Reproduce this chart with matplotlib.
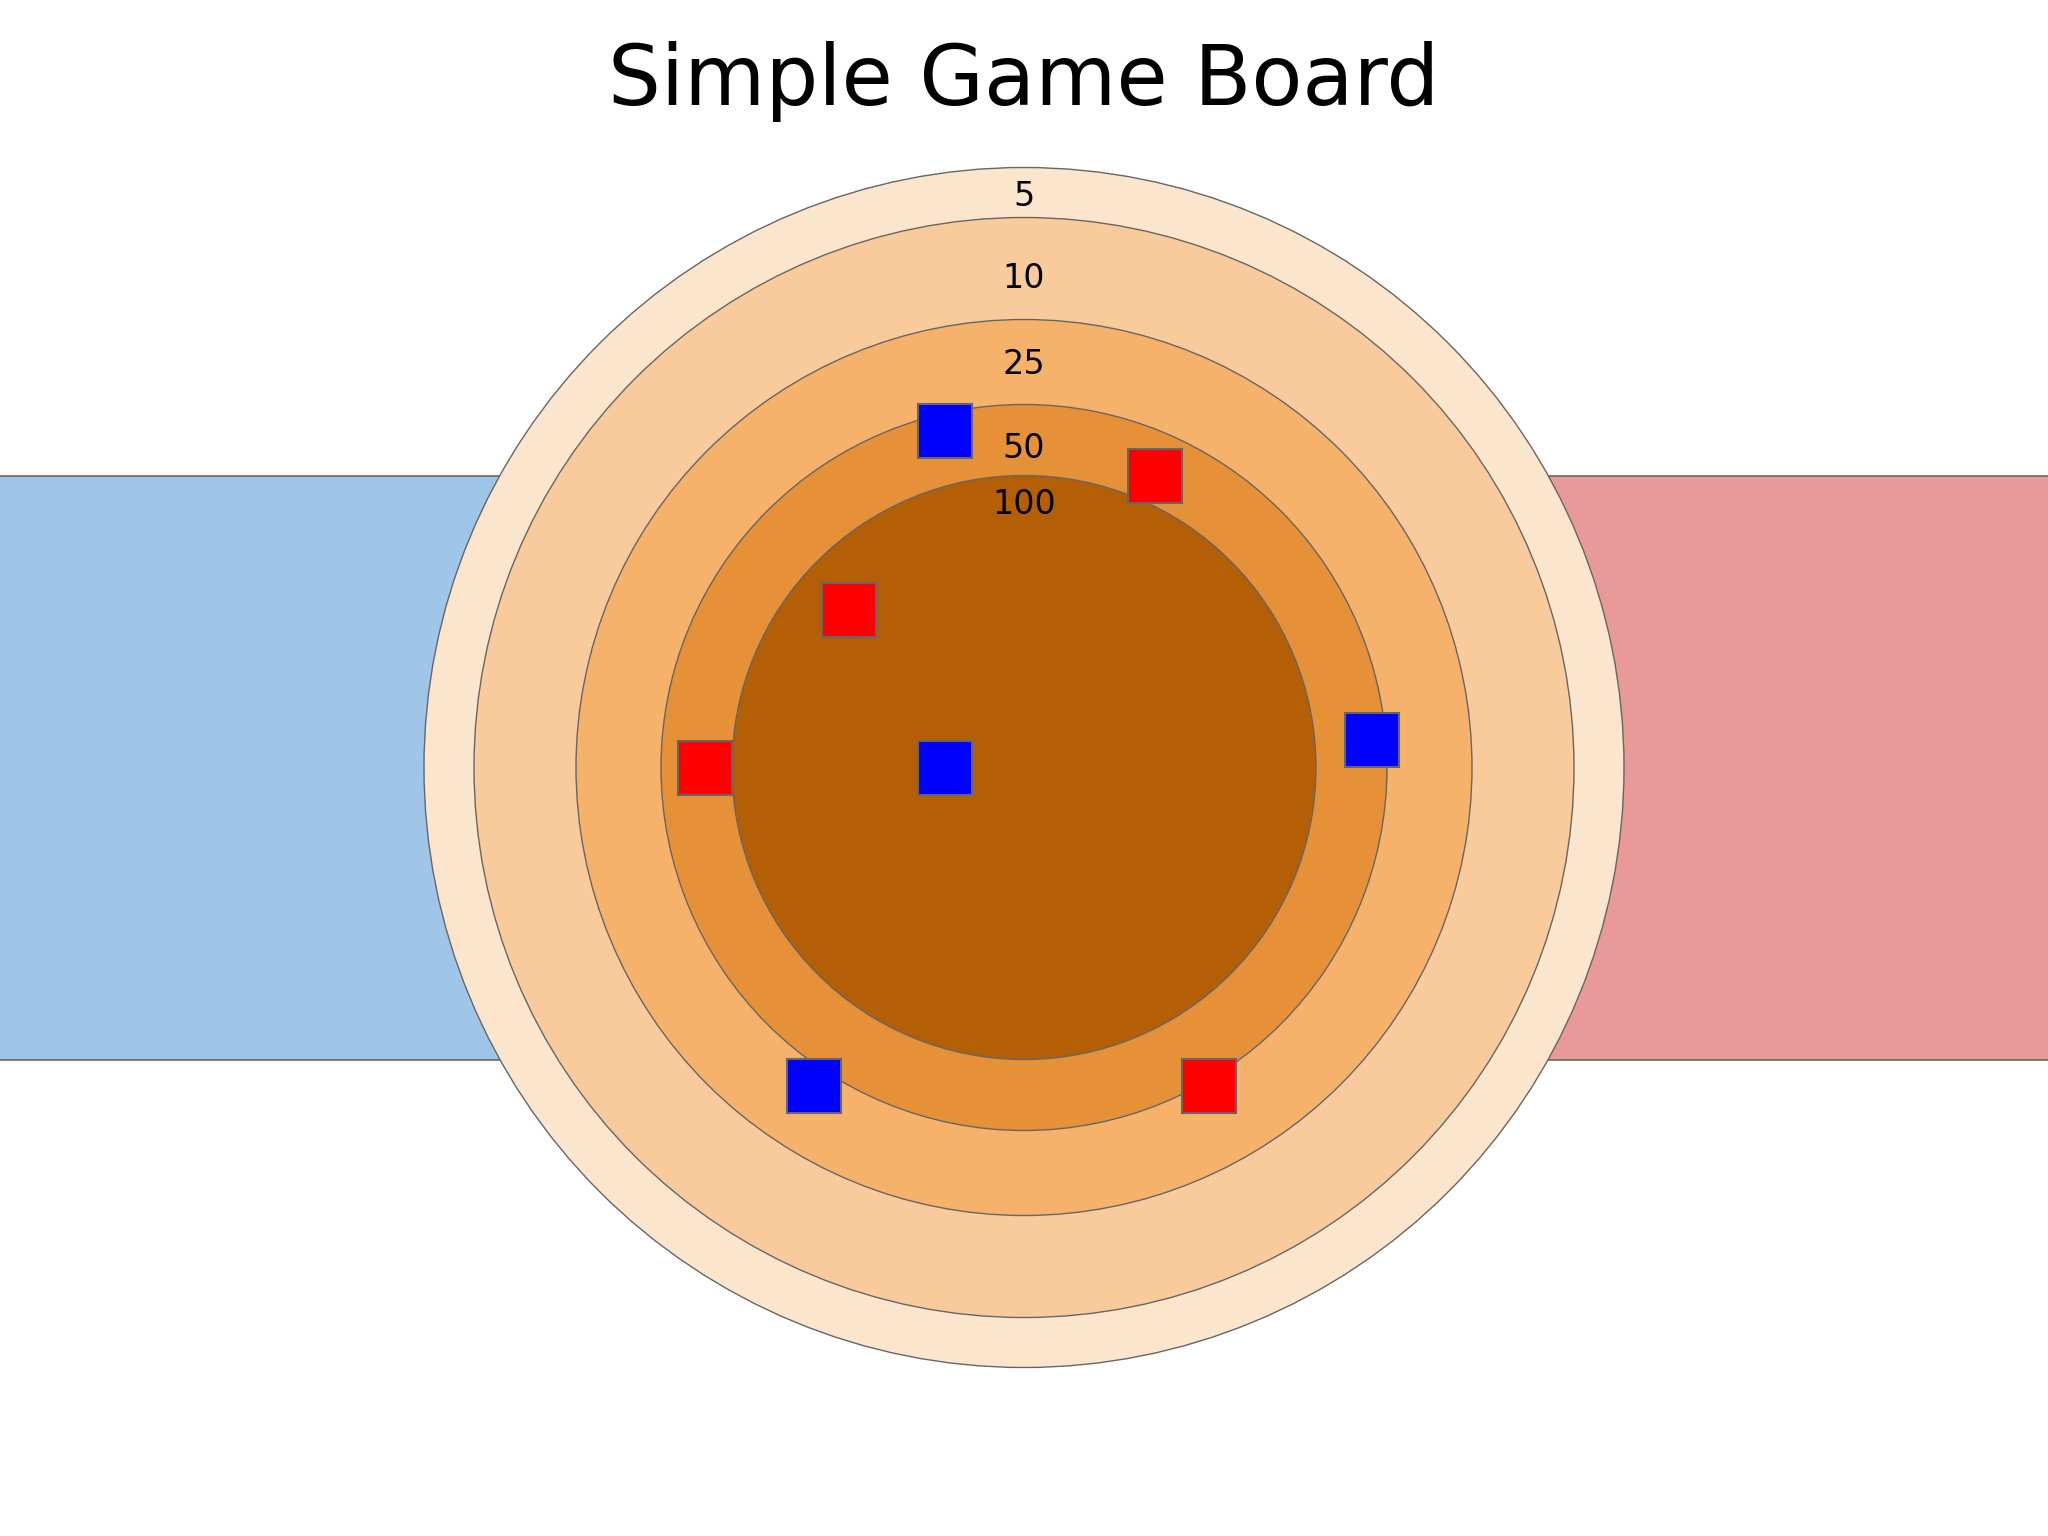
import matplotlib
matplotlib.use("Agg")
import matplotlib.pyplot as plt
from matplotlib.patches import Circle, Rectangle

# board rings, outermost first (radius in px, board centre at 0,0)
ring_points = ["5", "10", "25", "50", "100"]
ring_radius = [600, 550, 448, 363, 292]
ring_colors = ["#fce5cd", "#f9cb9c", "#f6b26b", "#e69138", "#b45f06"]
label_r = [574, 491, 406, 322, 266]

# team pieces (x, y) relative to centre, y up
blue_x = [-79, -79, 348, -210]
blue_y = [337, 0, 28, -318]
red_x = [131, -175, -319, 185]
red_y = [292, 158, 0, -318]
piece_size = 54

W, H = 2048, 1536
fig = plt.figure(figsize=(W / 100, H / 100), dpi=100)
ax = fig.add_axes([0, 0, 1, 1])
ax.set_xlim(-W / 2, W / 2)
ax.set_ylim(-768.5, 767.5)
ax.set_aspect("equal")
ax.axis("off")

edge = "#666666"
band_h = ring_radius[-1]
# team zones behind the board
ax.add_patch(Rectangle((-W / 2 - 10, -band_h), W / 2 + 10, 2 * band_h,
                       facecolor="#9fc5e8", edgecolor=edge, lw=1.2, zorder=1))
ax.add_patch(Rectangle((0, -band_h), W / 2 + 10, 2 * band_h,
                       facecolor="#ea9999", edgecolor=edge, lw=1.2, zorder=1))

for i, (r, c) in enumerate(zip(ring_radius, ring_colors)):
    ax.add_patch(Circle((0, 0), r, facecolor=c, edgecolor=edge, lw=1.0, zorder=2 + i))

for lab, ry in zip(ring_points, label_r):
    ax.text(0, ry - 12, lab, ha="center", va="baseline", fontsize=24,
            color="black", zorder=20)

for xs, ys, col in [(blue_x, blue_y, "#0000ff"), (red_x, red_y, "#ff0000")]:
    for x, y in zip(xs, ys):
        ax.add_patch(Rectangle((x - piece_size / 2, y - piece_size / 2), piece_size, piece_size,
                               facecolor=col, edgecolor=edge, lw=1.5, zorder=15))

fig.text(0.5, 1 - 104.5 / H, "Simple Game Board", ha="center", va="baseline",
         fontsize=60, color="black")

fig.savefig("out.png", dpi=100)
